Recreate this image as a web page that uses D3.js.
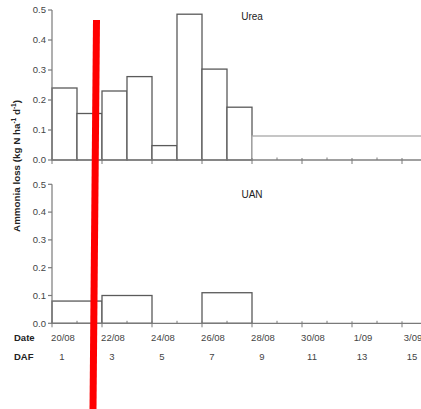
<!DOCTYPE html>
<html>
<head>
<meta charset="utf-8">
<script src="https://cdn.jsdelivr.net/npm/d3@7"></script>
<style>
  body { margin: 0; background: #fff; }
  svg { display: block; font-family: "Liberation Sans", Arial, sans-serif; }
</style>
</head>
<body>
<svg id="chart" width="421" height="409"></svg>
<script>
// day index 0 = 20/08
const ureaStart = [0, 1, 2, 3, 4, 5, 6, 7, 8];
const ureaEnd   = [1, 2, 3, 4, 5, 6, 7, 8, 16];
const ureaLoss  = [0.24, 0.155, 0.23, 0.278, 0.048, 0.486, 0.303, 0.176, 0.08];

const uanStart = [0, 2, 4, 6, 8];
const uanEnd   = [2, 4, 6, 8, 16];
const uanLoss  = [0.08, 0.10, 0, 0.11, 0];

const yTicks = [0, 0.1, 0.2, 0.3, 0.4, 0.5];
const dateLabels = ["20/08", "22/08", "24/08", "26/08", "28/08", "30/08", "1/09", "3/09"];
const dafLabels = [1, 3, 5, 7, 9, 11, 13, 15];

// the red marker drawn over the figure (in day units)
const markerDay = [1.78, 1.64];

var svg = d3.select("#chart");
var W = 421, H = 409;

var x = d3.scaleLinear().domain([0, 15]).range([52, 427]);
var yTop = d3.scaleLinear().domain([0, 0.5]).range([160, 10]);
var yBot = d3.scaleLinear().domain([0, 0.5]).range([323.3, 184.3]);

var axisCol = "#7a7a7a", textCol = "#444";

function drawPanel(y, starts, ends, vals, title, titleY) {
	var g = svg.append("g");
	var bins = starts.map((s, i) => ({s: s, e: ends[i], v: vals[i]}));
	g.selectAll("rect").data(bins).enter().append("rect")
		.attr("x", d => x(d.s))
		.attr("y", d => y(d.v))
		.attr("width", d => x(d.e) - x(d.s))
		.attr("height", d => y(0) - y(d.v))
		.attr("fill", "white")
		.attr("stroke", d => d.e - d.s > 4 ? "#a8a8a8" : "#5a5a5a")
		.attr("stroke-width", 1.3);

	// y axis
	g.append("line")
		.attr("x1", x(0)).attr("x2", x(0))
		.attr("y1", y(0.5)).attr("y2", y(0))
		.attr("stroke", axisCol).attr("stroke-width", 1.2);
	g.selectAll(".yt").data(yTicks).enter().append("line")
		.attr("x1", x(0) - 4).attr("x2", x(0))
		.attr("y1", d => y(d)).attr("y2", d => y(d))
		.attr("stroke", axisCol).attr("stroke-width", 1.2);
	g.selectAll(".yl").data(yTicks).enter().append("text")
		.attr("x", x(0) - 6)
		.attr("y", d => y(d) + 3.3)
		.attr("text-anchor", "end")
		.attr("font-size", 9.5)
		.attr("fill", textCol)
		.text(d => d.toFixed(1));

	// x axis
	g.append("line")
		.attr("x1", x(0)).attr("x2", W)
		.attr("y1", y(0)).attr("y2", y(0))
		.attr("stroke", axisCol).attr("stroke-width", 1.2);
	g.selectAll(".xt").data(d3.range(0, 16)).enter().append("line")
		.attr("x1", d => x(d)).attr("x2", d => x(d))
		.attr("y1", d => d % 2 == 0 ? y(0) - 2 : y(0) - 2.5)
		.attr("y2", d => d % 2 == 0 ? y(0) + 4 : y(0))
		.attr("stroke", axisCol).attr("stroke-width", 1);

	g.append("text")
		.attr("x", x(8)).attr("y", titleY)
		.attr("text-anchor", "middle")
		.attr("font-size", 10)
		.attr("fill", "#222")
		.text(title);
}

drawPanel(yTop, ureaStart, ureaEnd, ureaLoss, "Urea", 20);
drawPanel(yBot, uanStart, uanEnd, uanLoss, "UAN", 198);

// y label
svg.append("text")
	.attr("transform", "translate(20,166) rotate(-90)")
	.attr("text-anchor", "middle")
	.attr("font-size", 9.8)
	.attr("font-weight", "bold")
	.attr("fill", "#222")
	.html('Ammonia loss (kg N ha<tspan dy="-4" font-size="6.5">-1</tspan><tspan dy="4"> d</tspan><tspan dy="-4" font-size="6.5">-1</tspan><tspan dy="4">)</tspan>');

// Date and DAF rows
svg.append("text").attr("x", 14).attr("y", 341)
	.attr("font-size", 9.5).attr("font-weight", "bold").attr("fill", "#222").text("Date");
svg.append("text").attr("x", 14).attr("y", 360)
	.attr("font-size", 9.5).attr("font-weight", "bold").attr("fill", "#222").text("DAF");

svg.selectAll(".dl").data(dateLabels).enter().append("text")
	.attr("x", (d, i) => x(i * 2 + 0.44))
	.attr("y", 341)
	.attr("text-anchor", "middle")
	.attr("font-size", 9.5)
	.attr("fill", textCol)
	.text(d => d);
svg.selectAll(".df").data(dafLabels).enter().append("text")
	.attr("x", (d, i) => x(i * 2 + 0.4))
	.attr("y", 360)
	.attr("text-anchor", "middle")
	.attr("font-size", 9.5)
	.attr("fill", textCol)
	.text(d => d);

// red marker
svg.append("line")
	.attr("x1", x(markerDay[0])).attr("y1", 20)
	.attr("x2", x(markerDay[1])).attr("y2", H)
	.attr("stroke", "#f00")
	.attr("stroke-width", 7);
</script>
</body>
</html>
